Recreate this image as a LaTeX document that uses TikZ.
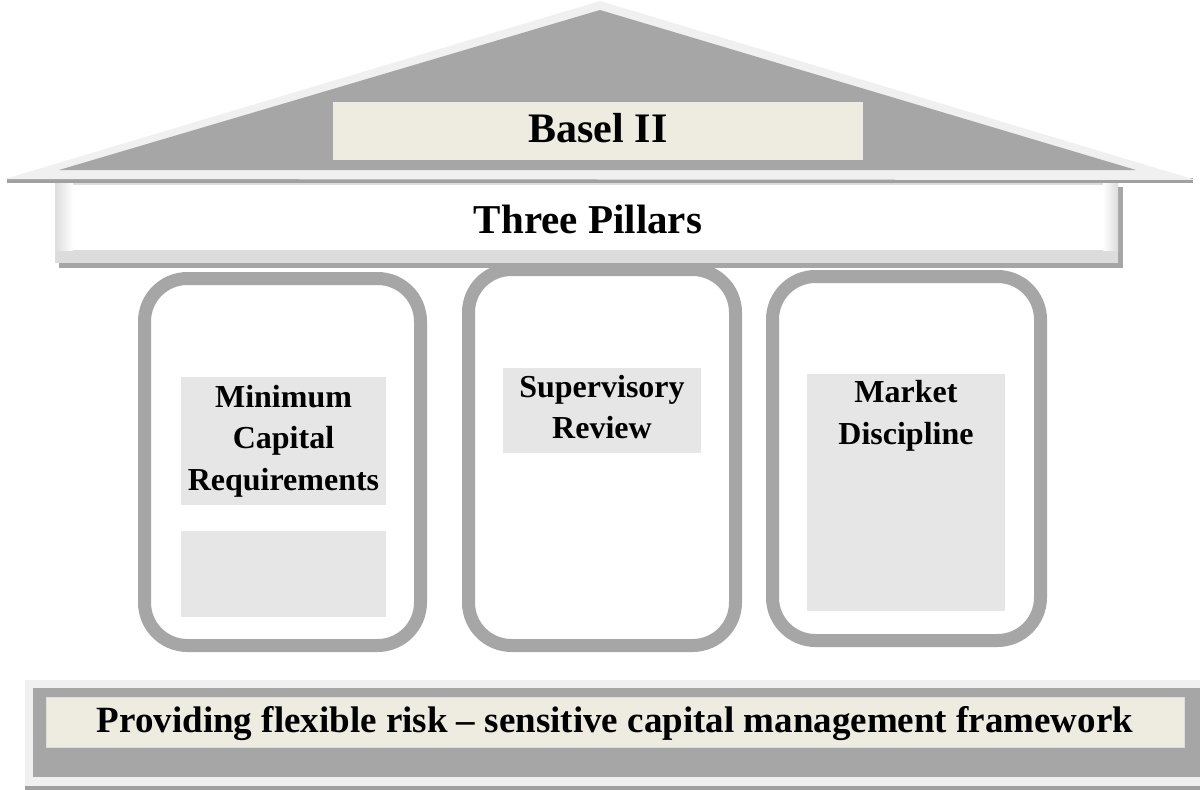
\documentclass[tikz,border=0pt]{standalone}
\usepackage{fontspec}
\setmainfont{Liberation Serif}
\definecolor{roofdark}{HTML}{A6A6A6}
\definecolor{rooflight}{HTML}{F0F0F0}
\definecolor{beige}{HTML}{EEEBE0}
\definecolor{boxgray}{HTML}{E6E6E6}
\definecolor{bevel}{HTML}{DCDCDC}
\definecolor{shadowgray}{HTML}{A0A0A0}
\begin{document}
\begin{tikzpicture}[x=1pt,y=-1pt,
  rect/.style={inner sep=0pt, outer sep=0pt, anchor=north west, draw=none},
  pillarbox/.style={rect, draw=roofdark, line width=13pt, rounded corners=43pt, fill=white},
  label/.style={inner sep=0pt, outer sep=0pt, font=\bfseries\fontsize{32}{41.7}\selectfont, align=center, text=black}
]
\useasboundingbox (0,0) rectangle (1200,790);
\fill[white] (0,0) rectangle (1200,790);

% roof
\fill[shadowgray] (7,178) rectangle (1193,183);
\fill[rooflight] (5,179) -- (600,1) -- (1196,180) -- cycle;
\fill[roofdark] (59,170) -- (600,10) -- (1136,170) -- cycle;
\node[rect, fill=beige, minimum width=530pt, minimum height=58pt] (basel) at (333,102) {};
\node[inner sep=0pt, anchor=base, font=\bfseries\fontsize{42}{50}\selectfont] (baseltext) at (598,142) {Basel II};

% pillars
\node[pillarbox, minimum width=276pt, minimum height=367pt] (p1) at (144.5,278.5) {};
\node[pillarbox, minimum width=267pt, minimum height=376pt] (p2) at (468.5,269.5) {};
\node[pillarbox, minimum width=268pt, minimum height=364pt] (p3) at (772.5,276.5) {};

% three pillars beam
\fill[roofdark] (59,187) rectangle (1123,268);
\fill[bevel] (55,183) rectangle (1118,263);
\shade[left color=bevel, right color=white] (55,183) rectangle (73,250);
\shade[left color=white, right color=bevel] (1103,183) rectangle (1118,250);
\node[rect, fill=white, minimum width=1030pt, minimum height=65pt] (beam) at (73,185) {};
\node[inner sep=0pt, anchor=base, font=\bfseries\fontsize{41}{50}\selectfont] (beamtext) at (588,233) {Three Pillars};

% pillar inner boxes
\node[rect, fill=boxgray, minimum width=205pt, minimum height=128pt] (b1) at (181,377) {};
\node[rect, fill=boxgray, minimum width=205pt, minimum height=86pt] (b1b) at (181,531) {};
\node[rect, fill=boxgray, minimum width=198pt, minimum height=85pt] (b2) at (503,368) {};
\node[rect, fill=boxgray, minimum width=198pt, minimum height=237pt] (b3) at (807,374) {};
\node[label] (t1) at (283.5,441) {Minimum\\Capital\\Requirements};
\node[label] (t2) at (602,407) {Supervisory\\Review};
\node[label] (t3) at (906,416) {Market\\Discipline};

% foundation
\fill[shadowgray] (25,786) rectangle (1200,790);
\fill[rooflight] (25,680) rectangle (1200,786);
\node[rect, fill=roofdark, minimum width=1167pt, minimum height=89pt] (base) at (33,688) {};
\node[rect, fill=beige, draw=bevel, line width=1pt, minimum width=1138pt, minimum height=50pt] (found) at (46,697) {};
\node[inner sep=0pt, anchor=base, font=\bfseries\fontsize{37}{45}\selectfont] (foundtext) at (615,732) {Providing flexible risk – sensitive capital management framework};
\end{tikzpicture}
\end{document}
